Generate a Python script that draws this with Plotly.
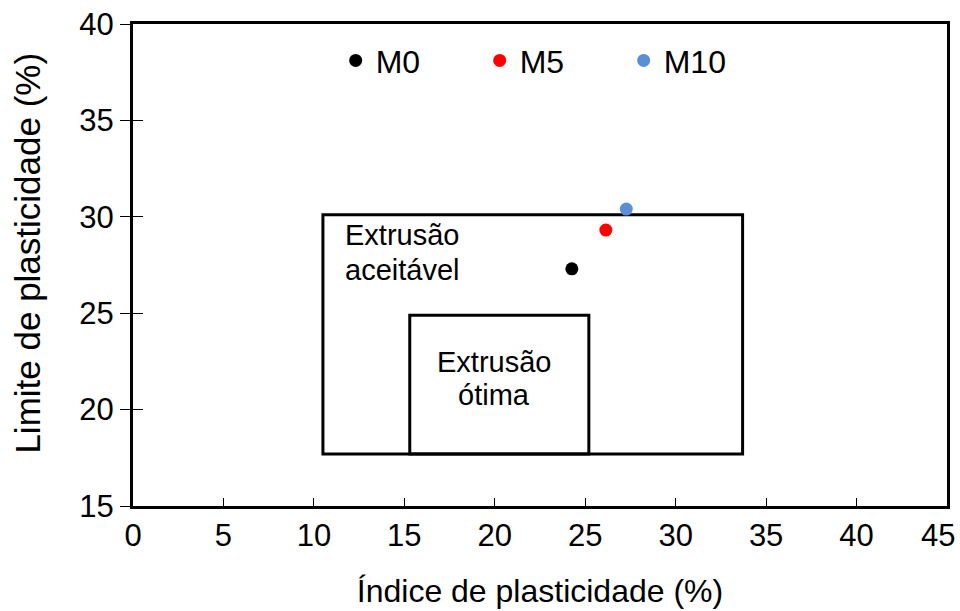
import plotly.graph_objects as go

# Amostras: índice de plasticidade (IP) e limite de plasticidade (LP), em %
samples = ["M0", "M5", "M10"]
ip_values = [24.26, 26.14, 27.27]
lp_values = [27.30, 29.31, 30.40]
sample_colors = ["#000000", "#FF0000", "#5A8FD5"]

# Zonas de extrusão: [IP mín, IP máx, LP mín, LP máx]
zone_acceptable = [10.5, 33.7, 17.7, 30.1]
zone_optimal = [15.3, 25.2, 17.7, 24.9]

x_ticks = list(range(0, 50, 5))
y_ticks = list(range(15, 45, 5))
# o último rótulo do eixo x é desenhado à parte, alinhado à direita
x_ticktext = [str(v) for v in x_ticks[:-1]] + [""]

FONT = "Liberation Sans, Arial, sans-serif"

fig = go.Figure()

for name, ip, lp, col in zip(samples, ip_values, lp_values, sample_colors):
    fig.add_trace(go.Scatter(
        x=[ip], y=[lp], mode="markers", name=name,
        marker=dict(color=col, size=13, line=dict(width=0)),
        cliponaxis=False,
    ))

# eixo auxiliar: marcas internas do eixo y (as externas vêm do eixo principal)
fig.add_trace(go.Scatter(x=[0], y=[15], yaxis="y2", mode="markers",
                         marker=dict(opacity=0), showlegend=False,
                         hoverinfo="skip"))

for zone in (zone_acceptable, zone_optimal):
    fig.add_shape(type="rect", xref="x", yref="y",
                  x0=zone[0], x1=zone[1], y0=zone[2], y1=zone[3],
                  line=dict(color="black", width=3), layer="below")

label_font = dict(family=FONT, size=29, color="black")
for txt, yy in (("Extrusão", 29.05), ("aceitável", 27.23)):
    fig.add_annotation(x=11.6, y=yy, xref="x", yref="y", text=txt,
                       showarrow=False, xanchor="left", yanchor="middle",
                       font=label_font)
for txt, yy in (("Extrusão", 22.46), ("ótima", 20.75)):
    fig.add_annotation(x=19.95, y=yy, xref="x", yref="y", text=txt,
                       showarrow=False, xanchor="center", yanchor="middle",
                       font=label_font)

# rótulo final do eixo x
fig.add_annotation(x=x_ticks[-1], y=0, xref="x", yref="paper",
                   text=str(x_ticks[-1]), showarrow=False,
                   xanchor="right", yanchor="top", xshift=10, yshift=-9.5,
                   font=dict(family=FONT, size=31, color="black"))

# título do eixo y
fig.add_annotation(x=-0.130, y=0.524, xref="paper", yref="paper",
                   text="Limite de plasticidade (%)", showarrow=False,
                   textangle=-90, xanchor="center", yanchor="middle",
                   font=dict(family=FONT, size=35, color="black"))

fig.update_layout(
    width=960, height=611,
    margin=dict(l=133, r=13, t=24, b=105),
    paper_bgcolor="white", plot_bgcolor="white",
    font=dict(family=FONT, size=31, color="black"),
    showlegend=True,
    legend=dict(orientation="h", x=0.249, y=0.924, xanchor="left",
                yanchor="middle", bgcolor="rgba(0,0,0,0)",
                font=dict(family=FONT, size=32, color="black"),
                entrywidth=99, itemsizing="trace"),
    xaxis=dict(range=[0, 45], tickvals=x_ticks, ticktext=x_ticktext,
               ticks="inside", ticklen=8,
               tickwidth=1, tickcolor="black", showgrid=False, zeroline=False,
               showline=True, linewidth=3, linecolor="black", mirror=True,
               tickfont=dict(size=31), automargin=False,
               title=dict(text="Índice de plasticidade (%)",
                          font=dict(size=32), standoff=28)),
    yaxis=dict(range=[15, 40], tickvals=y_ticks, ticks="outside", ticklen=10,
               tickwidth=1, tickcolor="black", showgrid=False, zeroline=False,
               showline=True, linewidth=3, linecolor="black", mirror=True,
               tickfont=dict(size=31), ticksuffix="\u2009",
               ticklabeloverflow="allow", automargin=False),
    yaxis2=dict(range=[15, 40], tickvals=y_ticks, overlaying="y", side="left",
                ticks="inside", ticklen=10, tickwidth=1, tickcolor="black",
                showticklabels=False, showgrid=False, zeroline=False,
                showline=False, automargin=False),
)

fig.write_html("out.html")
